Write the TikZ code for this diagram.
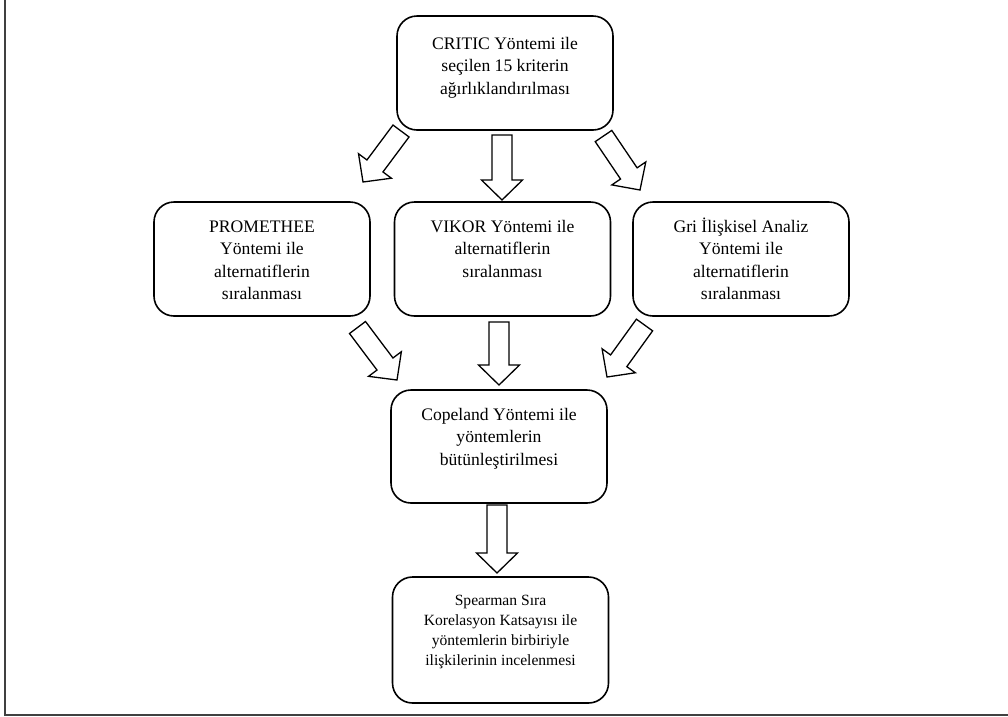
\documentclass[tikz,border=0pt]{standalone}
\usepackage{fontspec}
\setmainfont{Liberation Serif}
\usetikzlibrary{calc}
\newcommand\mylines[1]{\begin{tabular}[t]{@{}c@{}}#1\end{tabular}}
\newcommand\blockarrow[2]{%
  \draw[blockarr] ($(#1)!10pt!90:(#2)$)
    -- ($($(#2)!20pt!(#1)$)!10pt!-90:(#1)$)
    -- ($($(#2)!20pt!(#1)$)!20.5pt!-90:(#1)$)
    -- (#2)
    -- ($($(#2)!20pt!(#1)$)!20.5pt!90:(#1)$)
    -- ($($(#2)!20pt!(#1)$)!10pt!90:(#1)$)
    -- ($(#1)!10pt!-90:(#2)$) -- cycle;}
\begin{document}
\begin{tikzpicture}[x=1pt,y=-1pt,
  box/.style={draw, line width=1.6pt, rounded corners=20pt, inner sep=0pt, minimum width=216pt},
  txt/.style={inner sep=0pt, anchor=base, font=\fontsize{17.6}{22.5}\selectfont},
  stxt/.style={inner sep=0pt, anchor=base, font=\fontsize{15.6}{20}\selectfont},
  blockarr/.style={draw, fill=white, line width=1.3pt, line join=miter},
  frame/.style={draw=black!75, line width=1.6pt}]
\useasboundingbox (0,0) rectangle (1008,716);
% frame
\coordinate (ftop) at (5,0);
\coordinate (fcorner) at (5,715);
\coordinate (fright) at (1008,715);
\draw[frame] (ftop) -- (fcorner) -- (fright);
% boxes
\node[box, minimum height=114pt] (critic) at (505,73) {};
\node[box, minimum height=114pt] (prom) at (262,259) {};
\node[box, minimum height=114pt] (vikor) at (502.5,259) {};
\node[box, minimum height=114pt] (gri) at (741,259) {};
\node[box, minimum height=113pt] (cope) at (499,446.5) {};
\node[box, minimum height=126pt] (spear) at (500.5,640) {};
% texts
\node[txt] (criticT) at (505,49) {\mylines{CRITIC Yöntemi ile\\seçilen 15 kriterin\\ağırlıklandırılması}};
\node[txt] (promT) at (262,232) {\mylines{PROMETHEE\\Yöntemi ile\\alternatiflerin\\sıralanması}};
\node[txt] (vikorT) at (502.5,232) {\mylines{VIKOR Yöntemi ile\\alternatiflerin\\sıralanması}};
\node[txt] (griT) at (741,232) {\mylines{Gri İlişkisel Analiz\\Yöntemi ile\\alternatiflerin\\sıralanması}};
\node[txt] (copeT) at (499,420) {\mylines{Copeland Yöntemi ile\\yöntemlerin\\bütünleştirilmesi}};
\node[stxt] (spearT) at (500.5,605) {\mylines{Spearman Sıra\\Korelasyon Katsayısı ile\\yöntemlerin birbiriyle\\ilişkilerinin incelenmesi}};
% arrow end points
\coordinate (a1s) at (401,131); \coordinate (a1e) at (363,182);
\coordinate (a2s) at (502,135); \coordinate (a2e) at (502,200);
\coordinate (a3s) at (603.5,136); \coordinate (a3e) at (640,190);
\coordinate (a4s) at (357.5,327.5); \coordinate (a4e) at (397,380);
\coordinate (a5s) at (499,322); \coordinate (a5e) at (499,385);
\coordinate (a6s) at (644.5,325); \coordinate (a6e) at (607,377);
\coordinate (a7s) at (497,505); \coordinate (a7e) at (497,573);
\blockarrow{a1s}{a1e}
\blockarrow{a2s}{a2e}
\blockarrow{a3s}{a3e}
\blockarrow{a4s}{a4e}
\blockarrow{a5s}{a5e}
\blockarrow{a6s}{a6e}
\blockarrow{a7s}{a7e}
\end{tikzpicture}
\end{document}
